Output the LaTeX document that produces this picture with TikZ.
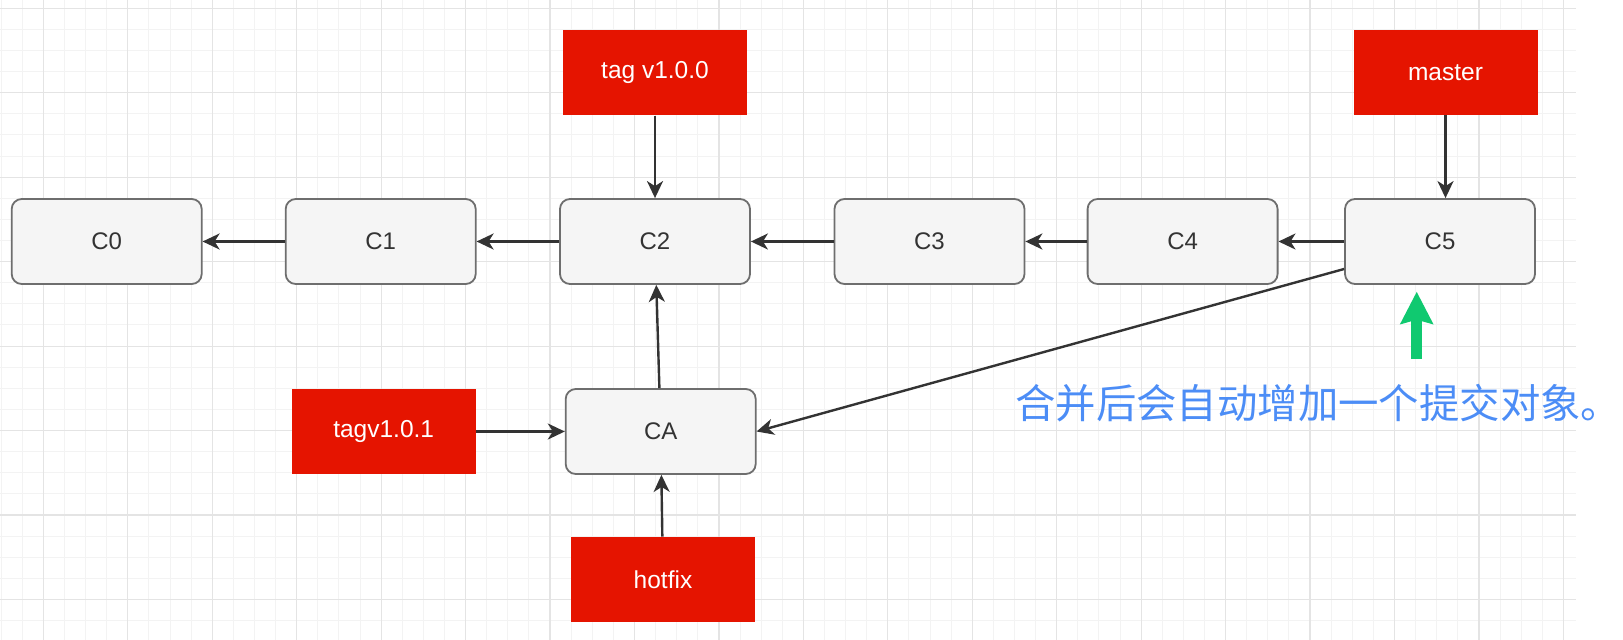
\documentclass[tikz,border=0pt]{standalone}
\usepackage{fontspec}
\setmainfont{Liberation Sans}
\newfontfamily\cjk{Noto Sans CJK SC}
\usepackage{tikz}
\usetikzlibrary{arrows.meta,shapes,positioning}
\usepackage{xcolor}
\definecolor{gitgray}{RGB}{245,245,245}
\definecolor{gitborder}{RGB}{110,110,110}
\definecolor{gittext}{RGB}{51,51,51}
\definecolor{gitred}{RGB}{229,20,0}
\definecolor{gitgreen}{RGB}{16,201,112}
\definecolor{gitblue}{RGB}{76,141,246}
\definecolor{gridmajor}{RGB}{228,228,228}
\definecolor{gridminor}{RGB}{243,243,243}
\tikzstyle{commit} = [draw=gitborder, fill=gitgray, line width=1.8pt, rounded corners=10pt, minimum width=190pt, minimum height=85pt, inner sep=0pt, text=gittext, font=\fontsize{24}{28}\selectfont]
\tikzstyle{refbox} = [fill=gitred, minimum width=184pt, minimum height=85pt, inner sep=0pt, text=white, font=\fontsize{24.5}{28}\selectfont]
\tikzstyle{arrow} = [line width=2.4pt, -{Stealth[length=17pt,width=16pt,inset=5pt]}, color=gittext]

\begin{document}
\begin{tikzpicture}[x=1pt, y=-1pt]
\useasboundingbox (0,0) rectangle (1623,640);
% Background grid
\foreach \i in {0,...,74}
  \draw[gridminor, line width=1pt] ({1.1+21.1125*\i},0) -- ({1.1+21.1125*\i},640);
\foreach \j in {0,...,29}
  \draw[gridminor, line width=1pt] (0,{8.3+21.1125*\j}) -- (1576,{8.3+21.1125*\j});
\foreach \i in {0,...,18}
  \draw[gridmajor, line width=1.2pt] ({43.3+84.45*\i},0) -- ({43.3+84.45*\i},640);
\foreach \j in {0,...,7}
  \draw[gridmajor, line width=1.2pt] (0,{8.3+84.45*\j}) -- (1576,{8.3+84.45*\j});

% Commits
\node[commit] (C0) at (106.7,241.5) {C0};
\node[commit] (C1) at (380.7,241.5) {C1};
\node[commit] (C2) at (655,241.5) {C2};
\node[commit] (C3) at (929.5,241.5) {C3};
\node[commit] (C4) at (1182.6,241.5) {C4};
\node[commit] (C5) at (1440,241.5) {C5};
\node[commit] (CA) at (660.7,431.5) {CA};

% Branch and tag labels
\node[refbox] (tag100) at (655,72.8) {tag v1.0.0};
\node[refbox] (master) at (1445.5,72.5) {master};
\node[refbox] (tag101) at (383.7,431.5) {tagv1.0.1};
\node[refbox] (hotfix) at (663,579.3) {hotfix};

% History
\draw[arrow] (C1) -- (C0);
\draw[arrow] (C2) -- (C1);
\draw[arrow] (C3) -- (C2);
\draw[arrow] (C4) -- (C3);
\draw[arrow] (C5) -- (C4);
\draw[arrow] (CA) -- (C2);
\draw[arrow] (C5.196) -- (CA.east);

% Pointers
\draw[arrow] (tag100) -- (C2);
\draw[arrow] (master.south) -- (master.south |- C5.north);
\draw[arrow] (tag101) -- (CA);
\draw[arrow] (hotfix) -- (CA);

% Merge note
\coordinate (noteTail) at (1416.7,359);
\coordinate (noteTip) at (1416.7,291.7);
\draw[gitgreen, line width=11pt, -{Stealth[length=32pt,width=32pt,inset=4pt]}] (noteTail) -- (noteTip);
\node[anchor=west, inner sep=0pt, text=gitblue, font=\cjk\fontsize{40.4}{48}\selectfont] (note) at (1015,403) {合并后会自动增加一个提交对象。};
\end{tikzpicture}
\end{document}
